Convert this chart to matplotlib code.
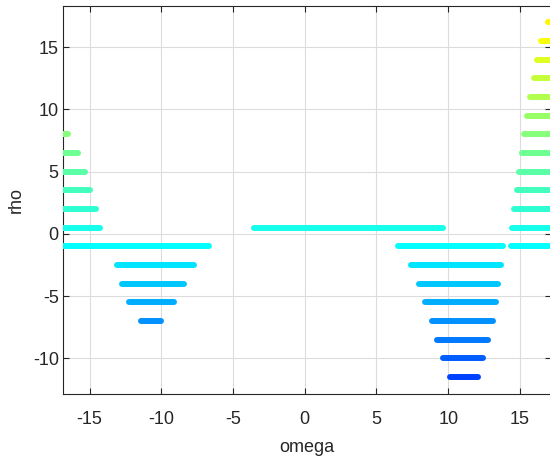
import matplotlib
matplotlib.use("Agg")
import numpy as np
import matplotlib.pyplot as plt
from matplotlib import colors

# each horizontal segment: rho level, omega start, omega end
seg_rho = [8, 6.5, 5, 3.5, 2, 0.5,
           -1, -2.5, -4, -5.5, -7,
           0.5,
           0.5, -1, -1, -2.5, -4, -5.5, -7, -8.5, -10, -11.5,
           17, 15.5, 14, 12.5, 11, 9.5, 8, 6.5, 5, 3.5, 2]
seg_lo = [-17.5, -17.5, -17.5, -17.5, -17.5, -17.5,
          -17.5, -13.1, -12.75, -12.25, -11.4,
          -3.55,
          14.45, 6.5, 14.35, 7.4, 7.95, 8.4, 8.85, 9.2, 9.65, 10.15,
          16.95, 16.5, 16.2, 15.95, 15.7, 15.5, 15.3, 15.15, 14.9, 14.8, 14.6]
seg_hi = [-16.5, -15.8, -15.3, -14.95, -14.55, -14.3,
          -6.7, -7.7, -8.4, -9.1, -10.05,
          9.65,
          17.5, 13.8, 17.5, 13.7, 13.5, 13.3, 13.1, 12.8, 12.45, 12.05,
          17.5, 17.5, 17.5, 17.5, 17.5, 17.5, 17.5, 17.5, 17.5, 17.5, 17.5]

xticks = [-15, -10, -5, 0, 5, 10, 15]
yticks = [-10, -5, 0, 5, 10, 15]

plt.rcParams['font.family'] = ['Liberation Sans', 'DejaVu Sans']
plt.rcParams['axes.unicode_minus'] = False

# matlab style jet
jet = colors.LinearSegmentedColormap.from_list('mjet', [
    (0.0, (0, 0, 0.5)), (0.125, (0, 0, 1)), (0.375, (0, 1, 1)),
    (0.625, (1, 1, 0)), (0.875, (1, 0, 0)), (1.0, (0.5, 0, 0))])


def level_color(r):
    pos = np.interp(r, [-11.5, -1, 17], [0.19, 0.375, 0.635])
    return jet(pos)


fig = plt.figure(figsize=(5.5, 4.58), dpi=100)
ax = fig.add_axes([0.1145, 0.1397, 0.887, 0.8472])

for r, a, b in zip(seg_rho, seg_lo, seg_hi):
    ax.plot([a, b], [r, r], color=level_color(r), linewidth=4.3,
            solid_capstyle='round', zorder=3)

ax.set_xlim(-16.85, 17.15)
ax.set_ylim(-12.87, 18.3)
ax.set_xticks(xticks)
ax.set_yticks(yticks)
ax.grid(True, color='#dcdcdc', linewidth=0.8)
ax.set_axisbelow(True)

ax.tick_params(direction='in', length=4, width=0.8, colors='#262626',
               labelsize=13, top=True, right=True)
ax.tick_params(axis='y', pad=3)
ax.tick_params(axis='x', pad=12)
for s in ax.spines.values():
    s.set_color('#262626')
    s.set_linewidth(0.8)

ax.set_xlabel('omega', fontsize=13, color='#262626', labelpad=8)
ax.set_ylabel('rho', fontsize=13, color='#262626', labelpad=6)

fig.savefig('out.png', dpi=100)
